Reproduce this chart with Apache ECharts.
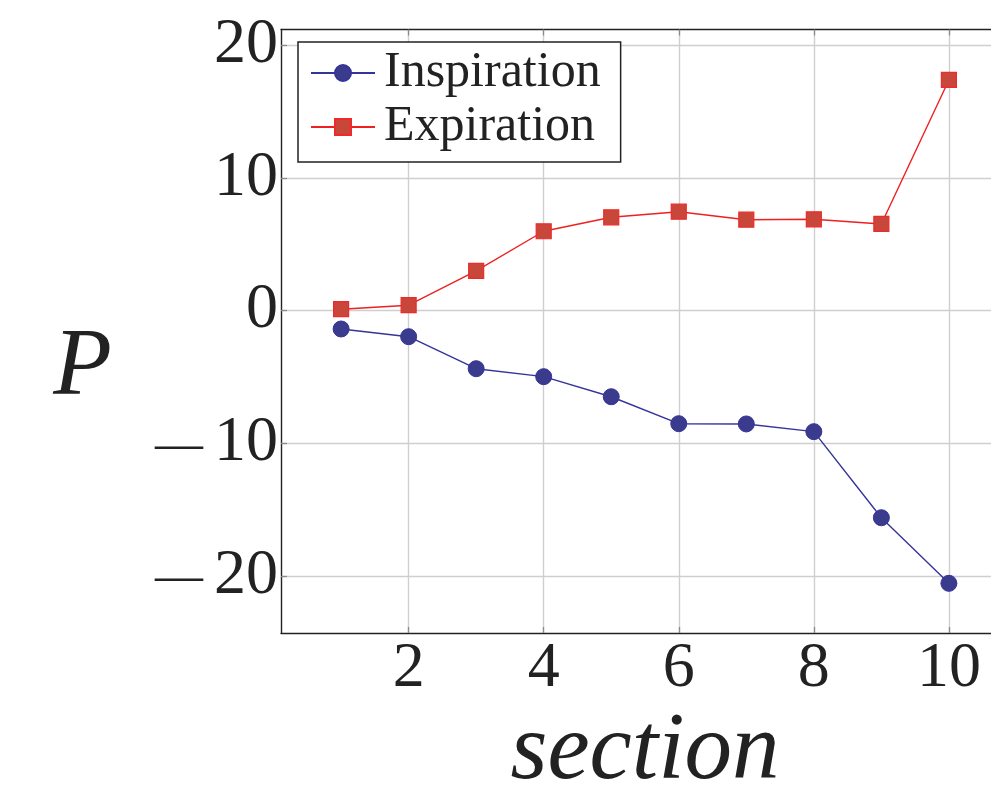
<!DOCTYPE html>
<html><head><meta charset="utf-8">
<script src="https://cdn.jsdelivr.net/npm/echarts@6/dist/echarts.min.js"></script>
<style>html,body{margin:0;padding:0;background:#fff;overflow:hidden}#c{width:991px;height:791px}</style>
</head><body><div id="c"></div>
<script>
const sections = [1, 2, 3, 4, 5, 6, 7, 8, 9, 10];
const inspiration = [-1.38, -1.96, -4.37, -4.97, -6.48, -8.51, -8.53, -9.11, -15.59, -20.53];
const expiration = [0.11, 0.41, 2.99, 5.98, 7.03, 7.45, 6.85, 6.88, 6.53, 17.37];
const xTicks = [2, 4, 6, 8, 10];
const yTicks = [-20, -10, 0, 10, 20];
const seriesNames = ['Inspiration', 'Expiration'];

const serif = '"Liberation Serif", "DejaVu Serif", serif';
const gridColor = '#cfcfcf';
const tickColor = '#8a8a8a';
// negative labels: a long thin dash as the minus sign, like the reference typesetting
const fmtY = v => (v < 0 ? '{m|\u2014}{n|' + Math.abs(v) + '}' : '{n|' + v + '}');

const chart = echarts.init(document.getElementById('c'), null, {renderer: 'canvas'});
chart.setOption({
  backgroundColor: '#ffffff',
  animation: false,
  grid: {left: 281, top: 29.5, bottom: 158, right: -18, containLabel: false, outerBoundsMode: 'none'},
  legend: {
    left: 298, top: 42, orient: 'vertical',
    data: seriesNames,
    backgroundColor: '#ffffff',
    borderColor: '#222', borderWidth: 1.5, borderRadius: 0,
    padding: [4, 20, 8, 12],
    itemGap: 0, itemWidth: 64, itemHeight: 20,
    textStyle: {fontFamily: serif, fontSize: 50, color: '#222', lineHeight: 54, padding: [0, 0, 0, 4]}
  },
  xAxis: [{
    type: 'value', min: 0.11, max: 10.89, position: 'bottom',
    name: 'section', nameLocation: 'middle', nameGap: 56,
    nameTextStyle: {fontFamily: serif, fontStyle: 'italic', fontSize: 95, color: '#222'},
    axisLine: {show: true, onZero: false, lineStyle: {color: '#222', width: 1.4}},
    axisTick: {show: true, inside: true, length: 6, customValues: xTicks, lineStyle: {color: tickColor, width: 1.3}},
    axisLabel: {show: true, customValues: xTicks, margin: 4, fontFamily: serif, fontSize: 64, color: '#222'},
    splitLine: {show: true, lineStyle: {color: gridColor, width: 1.4}}
  }, {
    type: 'value', min: 0.11, max: 10.89, position: 'top',
    axisLine: {show: true, onZero: false, lineStyle: {color: '#222', width: 1.4}},
    axisTick: {show: true, inside: true, length: 6, customValues: xTicks, lineStyle: {color: tickColor, width: 1.3}},
    axisLabel: {show: false},
    splitLine: {show: false}
  }],
  yAxis: {
    type: 'value', min: -24.27, max: 21.17,
    name: 'P', nameLocation: 'middle', nameGap: 169, nameRotate: 0,
    nameTextStyle: {fontFamily: serif, fontStyle: 'italic', fontSize: 96, color: '#222', verticalAlign: 'top', lineHeight: 76},
    axisLine: {show: true, onZero: false, lineStyle: {color: '#222', width: 1.4}},
    axisTick: {show: true, inside: true, length: 6, customValues: yTicks, lineStyle: {color: tickColor, width: 1.3}},
    axisLabel: {
      show: true, customValues: yTicks, margin: 3, color: '#222', formatter: fmtY,
      rich: {
        m: {fontFamily: serif, fontSize: 48, color: '#222', padding: [5, 11, 0, 0]},
        n: {fontFamily: serif, fontSize: 64, color: '#222'}
      }
    },
    splitLine: {show: true, lineStyle: {color: gridColor, width: 1.4}}
  },
  series: [{
    name: seriesNames[0], type: 'line',
    data: sections.map((s, i) => [s, inspiration[i]]),
    symbol: 'circle', symbolSize: 16,
    lineStyle: {color: '#34349a', width: 1.4},
    itemStyle: {color: '#3b3b8e', borderColor: '#34349a', borderWidth: 1},
    z: 3
  }, {
    name: seriesNames[1], type: 'line',
    data: sections.map((s, i) => [s, expiration[i]]),
    symbol: 'rect', symbolSize: 15,
    lineStyle: {color: '#ee2020', width: 1.4},
    itemStyle: {color: '#c8463a', borderColor: '#ee2a2a', borderWidth: 1.2},
    z: 3
  }]
});
</script></body></html>
